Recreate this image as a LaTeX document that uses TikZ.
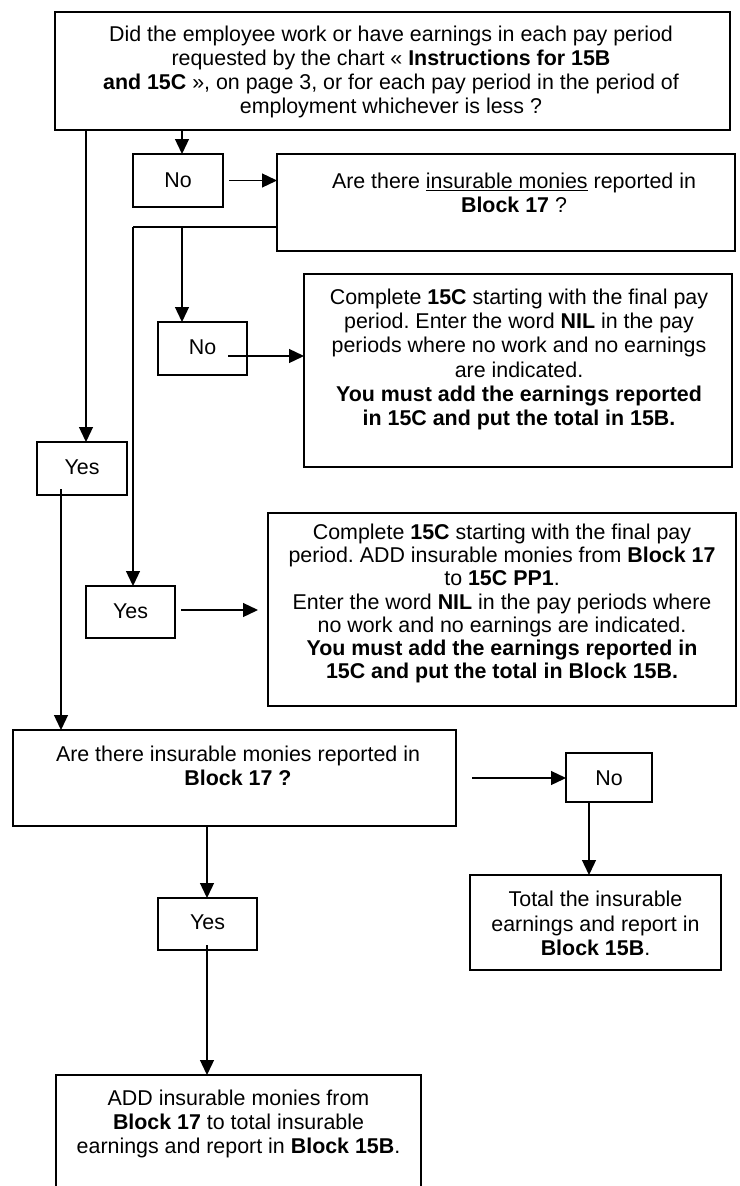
\documentclass[tikz,border=0pt]{standalone}
\usepackage{fontspec}
\setmainfont{Liberation Sans}
\usetikzlibrary{arrows.meta,calc}
\frenchspacing
\newcommand\fs{\fontsize{21.4}{24.2}\selectfont}
\newcommand\fsb{\fontsize{21.4}{23.3}\selectfont}
\tikzset{
  box/.style={draw, line width=1.3pt, inner sep=0pt, outer sep=0pt},
  txt/.style={align=center, inner sep=0pt, font=\fs},
  arr/.style={line width=1.3pt, -{Triangle[length=15pt,width=14pt]}},
  ln/.style={line width=1.3pt}
}
\begin{document}
\begin{tikzpicture}[x=1pt,y=-1pt]
\useasboundingbox (0,0) rectangle (739,1186);
\clip (0,0) rectangle (739,1186);
% boxes
\node[box, minimum width=675pt, minimum height=118pt] (top) at (392.5,71) {};
\node[txt] (topt) at (391,72) {Did the employee work or have earnings in each pay period\\
requested by the chart « \textbf{Instructions for 15B}\\
\textbf{and 15C} », on page 3, or for each pay period in the period of\\
employment whichever is less ?};
\node[box, minimum width=90pt, minimum height=53pt] (no1) at (178,180.5) {};
\node[txt] (no1t) at (178,180) {No};
\node[box, minimum width=458pt, minimum height=97pt] (b17) at (506,202.5) {};
\node[txt] (b17t) at (514,193) {Are there \underline{insurable monies} reported in\\ \textbf{Block 17} ?};
\node[box, minimum width=89pt, minimum height=53pt] (no2) at (202.5,348.5) {};
\node[txt] (no2t) at (202.5,347) {No};
\node[box, minimum width=428pt, minimum height=193pt] (c15no) at (518,370.5) {};
\node[txt] (c15not) at (519,359.5) {Complete \textbf{15C} starting with the final pay\\
period. Enter the word \textbf{NIL} in the pay\\
periods where no work and no earnings\\
are indicated.\\
\textbf{You must add the earnings reported}\\
\textbf{in 15C and put the total in 15B.}};
\node[box, minimum width=90pt, minimum height=53pt] (yes1) at (82,468.5) {};
\node[txt] (yes1t) at (82,467) {Yes};
\node[box, minimum width=89pt, minimum height=52pt] (yes2) at (130.5,612) {};
\node[txt] (yes2t) at (130.5,611) {Yes};
\node[box, minimum width=468pt, minimum height=193pt] (c15yes) at (502,609.5) {};
\node[txt, font=\fsb] (c15yest) at (502,603.5) {Complete \textbf{15C} starting with the final pay\\
period. ADD insurable monies from \textbf{Block 17}\\
to \textbf{15C PP1}.\\
Enter the word \textbf{NIL} in the pay periods where\\
no work and no earnings are indicated.\\
\textbf{You must add the earnings reported in}\\
\textbf{15C and put the total in Block 15B.}};
\node[box, minimum width=443pt, minimum height=96pt] (b17b) at (234.5,778) {};
\node[txt] (b17bt) at (238,766) {Are there insurable monies reported in\\ \textbf{Block 17 ?}};
\node[box, minimum width=86pt, minimum height=49pt] (no3) at (609,777.5) {};
\node[txt] (no3t) at (609,778) {No};
\node[box, minimum width=99pt, minimum height=52pt] (yes3) at (207.5,924) {};
\node[txt] (yes3t) at (207.5,922.5) {Yes};
\node[box, minimum width=251pt, minimum height=95pt] (total) at (595.5,922.5) {};
\node[txt] (totalt) at (595.5,923.5) {Total the insurable\\ earnings and report in\\ \textbf{Block 15B}.};
\node[box, minimum width=365pt, minimum height=125pt] (add) at (238.5,1137.5) {};
\node[txt] (addt) at (238.5,1124) {ADD insurable monies from\\ \textbf{Block 17} to total insurable\\ earnings and report in \textbf{Block 15B}.};
% helper coordinates
\coordinate (xa) at (86,0);
\coordinate (xb) at (182,0);
\coordinate (xc) at (133,0);
\coordinate (xd) at (589,0);
\coordinate (xe) at (207,0);
\coordinate (yj) at (0,227);
\coordinate (s1) at (229,180.5);
\coordinate (s2) at (228,356);
\coordinate (s3) at (61,489);
\coordinate (s4) at (181,610);
\coordinate (e4) at (258,610);
\coordinate (s5) at (472,778);
\coordinate (s6) at (207,945);
% connectors
\draw[arr] (top.south -| xa) -- (yes1.north -| xa);
\draw[arr] (top.south -| xb) -- (no1.north -| xb);
\draw[arr] (s1) -- (s1 -| b17.west);
\draw[ln] (b17.west |- yj) -- (xc |- yj);
\draw[arr] (xc |- yj) -- (xc |- yes2.north);
\draw[arr] (xb |- yj) -- (xb |- no2.north);
\draw[arr] (s2) -- (s2 -| c15no.west);
\draw[arr] (s3) -- (s3 |- b17b.north);
\draw[arr] (s4) -- (e4);
\draw[arr] (s5) -- (s5 -| no3.west);
\draw[arr] (no3.south -| xd) -- (total.north -| xd);
\draw[arr] (b17b.south -| xe) -- (yes3.north -| xe);
\draw[arr] (s6) -- (s6 |- add.north);
\end{tikzpicture}
\end{document}
